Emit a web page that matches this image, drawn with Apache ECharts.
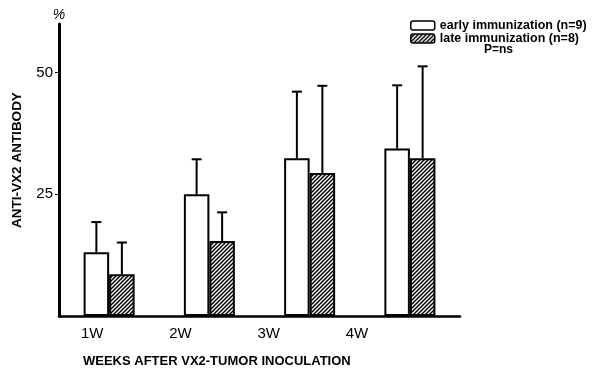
<!DOCTYPE html>
<html><head><meta charset="utf-8">
<script src="https://cdn.jsdelivr.net/npm/echarts@6/dist/echarts.min.js"></script>
<style>html,body{margin:0;padding:0;background:#fff}#c{width:606px;height:372px}</style>
</head><body><div id="c"></div>
<script>
const categories = ['1W', '2W', '3W', '4W'];
const earlyMeans = [13.1, 25.0, 32.4, 34.4];
const earlyUpper = [19.3, 32.2, 46.1, 47.4];
const lateMeans = [8.6, 15.4, 29.4, 32.4];
const lateUpper = [15.1, 21.3, 47.3, 51.3];
const yTicks = [25, 50];
const seriesNames = ['early immunization (n=9)', 'late immunization (n=8)'];

const BAR_W = 25.5;

function hatch() {
  const s = 4, c = document.createElement('canvas');
  c.width = s; c.height = s;
  const g = c.getContext('2d');
  g.fillStyle = '#fff'; g.fillRect(0, 0, s, s);
  g.strokeStyle = '#000'; g.lineWidth = 1.5;
  g.beginPath();
  g.moveTo(-1, s + 1); g.lineTo(s + 1, -1);
  g.moveTo(-1, 1); g.lineTo(1, -1);
  g.moveTo(s - 1, s + 1); g.lineTo(s + 1, s - 1);
  g.stroke();
  return c;
}
const pattern = { image: hatch(), repeat: 'repeat' };

function errSeries(means, upper, offset) {
  return {
    type: 'custom', z: 1, silent: true,
    data: categories.map((c, i) => [i, means[i], upper[i]]),
    renderItem: function (params, api) {
      const b = api.coord([api.value(0), api.value(1)]);
      const t = api.coord([api.value(0), api.value(2)]);
      const x = b[0] + offset;
      return { type: 'group', children: [
        { type: 'line', shape: { x1: x, y1: b[1], x2: x, y2: t[1] }, style: { stroke: '#000', lineWidth: 2 } },
        { type: 'line', shape: { x1: x - 5, y1: t[1], x2: x + 5, y2: t[1] }, style: { stroke: '#000', lineWidth: 2 } }
      ] };
    }
  };
}

const chart = echarts.init(document.getElementById('c'), null, { renderer: 'canvas' });
chart.setOption({
  animation: false,
  backgroundColor: '#fff',
  textStyle: { fontFamily: 'Liberation Sans, Arial, sans-serif', color: '#000' },
  grid: [
    { left: 59, top: 24, width: 401, height: 292 },
    { left: 48, top: 24, width: 353, height: 292 }
  ],
  xAxis: [
    { type: 'category', gridIndex: 0, data: categories,
      axisLine: { lineStyle: { color: '#000', width: 2.5 } },
      axisTick: { show: false }, axisLabel: { show: false } },
    { type: 'category', gridIndex: 1, data: categories,
      axisLine: { show: false }, axisTick: { show: false },
      axisLabel: { margin: 10, fontSize: 15, color: '#000' } }
  ],
  yAxis: [
    { type: 'value', gridIndex: 0, min: 0, max: 60, interval: 25,
      name: '%', nameLocation: 'end', nameGap: 2,
      nameTextStyle: { fontSize: 14, fontStyle: 'italic', color: '#000', align: 'center' },
      axisLine: { show: true, lineStyle: { color: '#000', width: 3 } },
      axisTick: { show: true, length: 4, lineStyle: { color: '#000', width: 1 }, customValues: yTicks },
      axisLabel: { margin: 6, fontSize: 15, color: '#000',
        customValues: yTicks, formatter: v => (yTicks.indexOf(v) >= 0 ? String(v) : '') },
      splitLine: { show: false } },
    { type: 'value', gridIndex: 1, min: 0, max: 60, show: false }
  ],
  legend: {
    data: seriesNames, orient: 'vertical', left: 410, top: 19, itemGap: 0, padding: 0,
    itemWidth: 24, itemHeight: 9,
    textStyle: { fontSize: 12.5, lineHeight: 13, fontWeight: 'bold', color: '#000' },
    itemStyle: { borderColor: '#000', borderWidth: 1.5 }
  },
  title: [
    { text: 'WEEKS AFTER VX2-TUMOR INOCULATION', left: 83, top: 355, padding: 0,
      textStyle: { fontSize: 13, fontWeight: 'bold', color: '#000' } },
    { text: 'P=ns', left: 484, top: 44, padding: 0, textStyle: { fontSize: 12, fontWeight: 'bold', color: '#000' } }
  ],
  graphic: [
    { type: 'text', x: 17, y: 160, rotation: Math.PI / 2,
      style: { text: 'ANTI-VX2 ANTIBODY', fontSize: 13.5, fontWeight: 'bold', fill: '#000',
        textAlign: 'center', textVerticalAlign: 'middle', fontFamily: 'Liberation Sans, Arial, sans-serif' } }
  ],
  series: [
    { name: seriesNames[0], type: 'bar', data: earlyMeans, barWidth: BAR_W, barGap: '0%', z: 2,
      itemStyle: { color: '#fff', borderColor: '#000', borderWidth: 2 } },
    { name: seriesNames[1], type: 'bar', data: lateMeans, barWidth: BAR_W, barGap: '0%', z: 2,
      itemStyle: { color: pattern, borderColor: '#000', borderWidth: 2 } },
    errSeries(earlyMeans, earlyUpper, -BAR_W / 2),
    errSeries(lateMeans, lateUpper, BAR_W / 2)
  ]
});
</script></body></html>
